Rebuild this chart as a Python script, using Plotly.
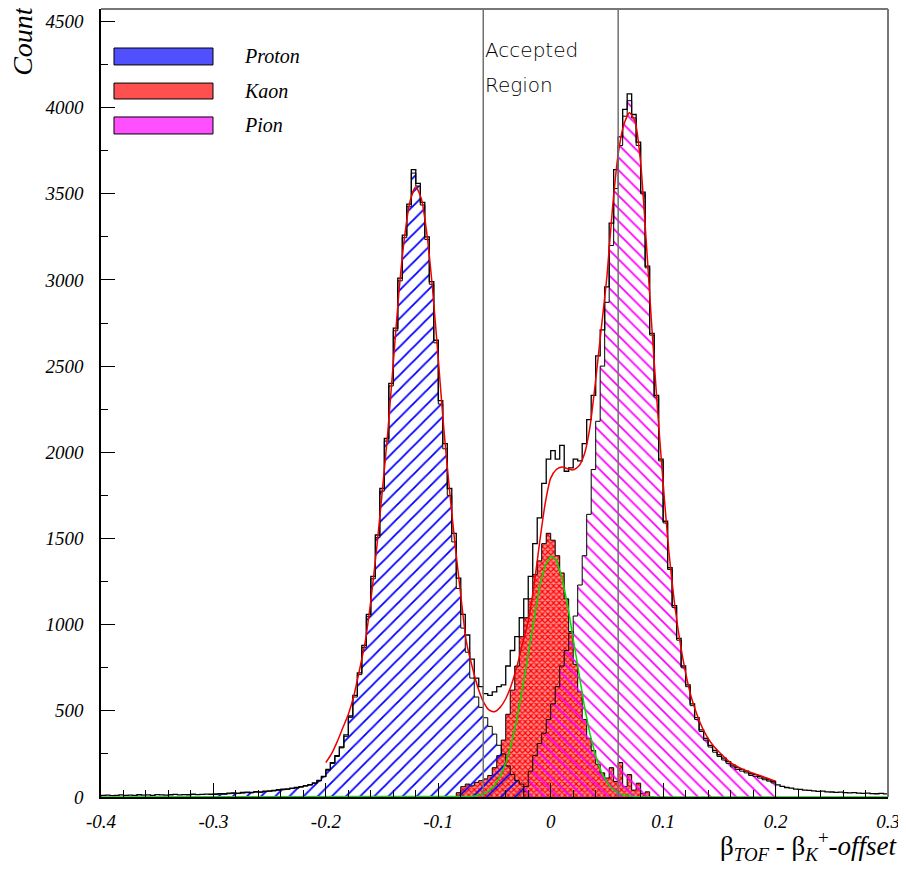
import plotly.graph_objects as go

# ---------------- data ----------------
bin_width = 0.004

total_start = -0.400
total_counts = [
    9, 11, 8, 10, 12, 9, 11, 10, 13, 11, 12, 10, 14, 12, 11, 13, 15, 12, 14, 13, 16, 14, 15, 17, 16,
    18, 20, 19, 22, 24, 23, 26, 28, 27, 31, 30, 34, 36, 38, 42, 45, 47, 52, 55, 60, 66, 72, 82, 96, 120,
    160, 200, 240, 290, 360, 470, 590, 720, 880, 1060, 1280, 1520, 1790, 2080, 2400, 2720, 3010, 3260, 3440, 3640,
    3560, 3450, 3250, 2990, 2650, 2300, 2050, 1790, 1530, 1270, 1060, 940, 800, 690, 640, 600, 590, 610, 640, 650,
    760, 850, 930, 1040, 1150, 1280, 1470, 1620, 1820, 1960,
    2010, 1960, 2040, 1890, 1910, 1960, 1950, 2050, 2190, 2330, 2560, 2710, 2960, 3330, 3640, 3830, 3990, 4080, 3960, 3800,
    3510, 3080, 2690, 2330, 1960, 1600, 1330, 1110, 920, 760, 650, 540, 460, 390, 340, 300, 270, 245, 225, 205,
    185, 170, 160, 150, 135, 130, 120, 110, 100, 90,
    70, 62, 55, 52, 46, 44, 40, 38, 36, 33, 34, 30, 29, 27, 28, 25, 24, 25, 22, 21, 23, 20, 19, 21, 18,
]

proton_start = -0.300
proton_counts = [
    14, 17, 16, 19, 21, 20, 23, 25, 24, 28, 27, 31, 33, 35, 39, 42, 44, 49, 52, 57, 63, 69, 79, 93, 117,
    155, 195, 235, 285, 352, 462, 580, 710, 868, 1048, 1266, 1505, 1775, 2065, 2385, 2705, 2995, 3245, 3425, 3620,
    3545, 3435, 3235, 2975, 2635,
    2280, 2020, 1750, 1480, 1210, 980, 840, 690, 580, 520, 460, 410, 365, 300, 250, 180, 130, 95, 75, 30,
]

kaon_start = -0.084
kaon_counts = [
    25, 60, 75, 65, 85, 95, 105, 125, 170, 240, 330, 480, 620, 760, 930, 1040, 1150, 1290, 1370, 1470,
    1530, 1490, 1400, 1300, 1150, 960, 770, 610, 450, 340, 270, 190, 140, 110, 170, 90, 200, 60, 130, 40,
    80, 20, 30, 0,
]

pion_start = -0.024
pion_counts = [
    60, 150, 240, 310, 370, 450, 540, 640, 760, 850, 950, 1050, 1230, 1400, 1640, 1900, 2180, 2500, 2870, 3200,
    3530, 3780, 3950, 4040, 3940, 3780, 3500, 3070, 2680, 2320, 1950, 1590, 1320, 1100, 910, 750, 640, 530, 450, 380,
    330, 290, 260, 235, 215, 195, 175, 160, 150, 140, 125, 120, 110, 100, 92, 82,
]

# total fit (red), sampled every 0.005 from -0.2 to 0.2
fit_start = -0.200
fit_step = 0.005
fit_total = [
    200, 250, 320, 400, 480, 590, 740, 900, 1140, 1430, 1760, 2110, 2520, 2930, 3250, 3460, 3540,
    3470, 3260, 2940, 2540, 2130, 1780, 1460, 1170, 900, 760, 640, 555, 505, 495, 520, 570, 650, 760, 890,
    1020, 1220, 1470, 1700,
    1850, 1900, 1915, 1905, 1898, 1920, 1990, 2150, 2420, 2720, 3020, 3420, 3730, 3900, 3970, 3920, 3680,
    3220, 2720, 2250, 1820, 1430, 1130, 900, 720, 580, 480, 400, 340, 295, 260, 228, 200, 180, 163, 150,
    138, 126, 115, 103, 92,
]

# kaon fit (green)
kaon_fit_x = [-0.40, -0.09, -0.08, -0.075, -0.07, -0.065, -0.06, -0.055, -0.05, -0.045, -0.04, -0.035,
              -0.03, -0.025, -0.02, -0.015, -0.01, -0.005, 0.0, 0.005, 0.01, 0.015, 0.02, 0.025, 0.03,
              0.035, 0.04, 0.045, 0.05, 0.055, 0.06, 0.065, 0.07, 0.075, 0.08, 0.09, 0.30]
kaon_fit_y = [0, 0, 1, 2, 4, 9, 18, 36, 68, 118, 197, 309, 457, 635, 837, 1038, 1216, 1342, 1398, 1375,
              1274, 1114, 919, 715, 525, 363, 238, 146, 85, 47, 24, 12, 5, 2, 1, 0, 0]

cut_edges = [-0.06, 0.06]

x_tick_vals = [-0.4, -0.3, -0.2, -0.1, 0.0, 0.1, 0.2, 0.3]
x_tick_text = ['-0.4', '-0.3', '-0.2', '-0.1', '0', '0.1', '0.2', '0.3']
y_tick_vals = [0, 500, 1000, 1500, 2000, 2500, 3000, 3500, 4000, 4500]
y_tick_text = [str(v) for v in y_tick_vals]

legend_names = ['Proton', 'Kaon', 'Pion']
legend_colors = ['#5050ff', '#ff5050', '#ff50ff']


# ---------------- helpers ----------------
def step_xy(start, counts, w=bin_width):
    edges = [start + i * w for i in range(len(counts) + 1)]
    xs = [edges[0]] + edges[:-1] + [edges[-1], edges[-1]]
    ys = [0] + list(counts) + [counts[-1], 0]
    return xs, ys


fig = go.Figure()

# Kaon: red cross-hatch
kx, ky = step_xy(kaon_start, kaon_counts)
fig.add_trace(go.Scatter(
    x=kx, y=ky, mode='lines', line=dict(color='black', width=1, shape='hv'),
    fill='tozeroy', fillcolor='rgba(0,0,0,0)',
    fillpattern=dict(shape='x', bgcolor='#ff8c8c', fgcolor='#ff0000', size=4, solidity=0.5,
                     fillmode='replace', fgopacity=1),
    hoverinfo='skip', showlegend=False))

# Proton: blue "/" hatch
px_, py_ = step_xy(proton_start, proton_counts)
fig.add_trace(go.Scatter(
    x=px_, y=py_, mode='lines', line=dict(color='black', width=1, shape='hv'),
    fill='tozeroy', fillcolor='rgba(0,0,0,0)',
    fillpattern=dict(shape='/', bgcolor='rgba(0,0,0,0)', fgcolor='#0000ff', size=10, solidity=0.18,
                     fillmode='replace', fgopacity=1),
    hoverinfo='skip', showlegend=False))

# Pion: magenta "\" hatch
pix, piy = step_xy(pion_start, pion_counts)
fig.add_trace(go.Scatter(
    x=pix, y=piy, mode='lines', line=dict(color='black', width=1, shape='hv'),
    fill='tozeroy', fillcolor='rgba(0,0,0,0)',
    fillpattern=dict(shape='\\', bgcolor='rgba(0,0,0,0)', fgcolor='#ff00ff', size=9, solidity=0.2,
                     fillmode='replace', fgopacity=1),
    hoverinfo='skip', showlegend=False))

# Total histogram
tx, ty = step_xy(total_start, total_counts)
fig.add_trace(go.Scatter(
    x=tx, y=ty, mode='lines', line=dict(color='black', width=1.3, shape='hv'),
    hoverinfo='skip', showlegend=False))

# Kaon fit (green)
fig.add_trace(go.Scatter(
    x=kaon_fit_x, y=kaon_fit_y, mode='lines', line=dict(color='#00dd00', width=1.5),
    hoverinfo='skip', showlegend=False))

# Total fit (red)
fit_x = [fit_start + i * fit_step for i in range(len(fit_total))]
fig.add_trace(go.Scatter(
    x=fit_x, y=fit_total, mode='lines', line=dict(color='#ee0000', width=1.5, shape='spline', smoothing=0.6),
    hoverinfo='skip', showlegend=False))

shapes = []
for c in cut_edges:
    shapes.append(dict(type='line', xref='x', yref='paper', x0=c, x1=c, y0=0, y1=1,
                       line=dict(color='#707070', width=1.5), layer='above'))
# gray top and right frame
shapes.append(dict(type='line', xref='paper', yref='paper', x0=0, x1=1, y0=1, y1=1,
                   line=dict(color='#777777', width=2)))
shapes.append(dict(type='line', xref='paper', yref='paper', x0=1, x1=1, y0=0, y1=1,
                   line=dict(color='#777777', width=2)))

annotations = []
# legend boxes
legend_y = [(0.9505, 0.929), (0.906, 0.8858), (0.863, 0.8414)]
for name, col, (ya, yb) in zip(legend_names, legend_colors, legend_y):
    shapes.append(dict(type='rect', xref='paper', yref='paper', x0=0.0165, x1=0.1423, y0=yb, y1=ya,
                       fillcolor=col, line=dict(color='black', width=1)))
    annotations.append(dict(xref='paper', yref='paper', x=0.179, y=(ya + yb) / 2, xanchor='left',
                            yanchor='middle', showarrow=False, text=name,
                            font=dict(family='Liberation Serif', size=20, style='italic', color='black')))

# accepted region text
annotations.append(dict(xref='x', yref='paper', x=cut_edges[0], y=0.948, xanchor='left', yanchor='middle',
                        xshift=0, showarrow=False, text='Accepted',
                        font=dict(family='DejaVu Sans', size=20, weight=300, color='black')))
annotations.append(dict(xref='x', yref='paper', x=cut_edges[0], y=0.9036, xanchor='left', yanchor='middle',
                        xshift=0, showarrow=False, text='Region',
                        font=dict(family='DejaVu Sans', size=20, weight=300, color='black')))

# axis titles
annotations.append(dict(xref='paper', yref='paper', x=-0.1, y=0.96, xanchor='center', yanchor='middle',
                        textangle=-90, showarrow=False, text='Count',
                        font=dict(family='Liberation Serif', size=28, style='italic', color='black')))
annotations.append(dict(xref='paper', yref='paper', x=1.015, y=-0.062, xanchor='right', yanchor='middle',
                        showarrow=False,
                        text='β<sub><i>TOF</i></sub> - β<sub><i>K</i></sub><sup>+</sup><i>-offset</i>',
                        font=dict(family='Liberation Serif', size=27, color='black')))

# page body has an 8px margin: shift figure accordingly
fig.update_layout(
    width=898, height=863,
    margin=dict(l=93, r=18, t=1, b=74),
    paper_bgcolor='white', plot_bgcolor='white',
    showlegend=False,
    shapes=shapes, annotations=annotations,
    xaxis=dict(range=[-0.4, 0.3], showgrid=False, zeroline=False,
               showline=True, linecolor='black', linewidth=1.5,
               tickmode='array', tickvals=x_tick_vals, ticktext=x_tick_text,
               ticks='inside', ticklen=14, tickcolor='black', tickwidth=1,
               minor=dict(tickmode='linear', tick0=-0.4, dtick=0.02, ticks='inside', ticklen=7,
                          tickcolor='black', tickwidth=1, showgrid=False),
               tickfont=dict(family='Liberation Serif', size=19, style='italic', color='black'),
               ticklabelstandoff=6),
    yaxis=dict(range=[0, 4572], showgrid=False, zeroline=False,
               showline=True, linecolor='black', linewidth=1.5,
               tickmode='array', tickvals=y_tick_vals, ticktext=y_tick_text,
               ticks='inside', ticklen=14, tickcolor='black', tickwidth=1,
               minor=dict(tickmode='linear', tick0=0, dtick=250, ticks='inside', ticklen=7,
                          tickcolor='black', tickwidth=1, showgrid=False),
               tickfont=dict(family='Liberation Serif', size=19, style='italic', color='black'),
               ticklabelstandoff=12),
)

fig.write_html('out.html')
